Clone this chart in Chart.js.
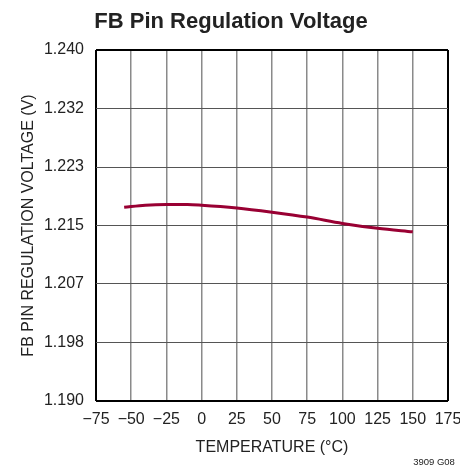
<!DOCTYPE html>
<html>
<head>
<meta charset="utf-8">
<script src="https://cdn.jsdelivr.net/npm/chart.js@4.4.1/dist/chart.umd.min.js"></script>
<style>
  html, body { margin: 0; padding: 0; background: #fff; }
  #wrap { width: 460px; height: 469px; position: relative; }
</style>
</head>
<body>
<div id="wrap"><canvas id="fbChart" width="460" height="469"></canvas></div>
<script>
// FB pin regulation voltage vs temperature
const temps = [-55, -40, -25, -10, 0, 25, 50, 75, 100, 125, 150];
const vfb = [1.2176, 1.2179, 1.2180, 1.2180, 1.2179, 1.2175, 1.2169, 1.2162, 1.2153, 1.2146, 1.2141];

const xTickValues = [-75, -50, -25, 0, 25, 50, 75, 100, 125, 150, 175];
const xTickLabels = ['\u221275', '\u221250', '\u221225', '0', '25', '50', '75', '100', '125', '150', '175'];
const yTickValues = [1.19, 1.198333, 1.206667, 1.215, 1.223333, 1.231667, 1.24];
const yTickLabels = ['1.190', '1.198', '1.207', '1.215', '1.223', '1.232', '1.240'];

const FONT = '"Liberation Sans Narrow", "Arial Narrow", "Liberation Sans", Arial, sans-serif';

// title + part number drawn straight on the canvas
const textPlugin = {
    id: 'textPlugin',
    afterDraw(chart) {
        const c = chart.ctx;
        c.save();
        c.fillStyle = '#222';
        c.textAlign = 'center';
        c.textBaseline = 'alphabetic';
        c.font = 'bold 22px ' + FONT;
        c.fillText('FB Pin Regulation Voltage', 231, 28);
        c.font = '9.5px ' + FONT;
        c.fillText('3909 G08', 434, 465);
        c.restore();
    }
};

const edge = (ctx, n, inner, outer) => (ctx.index === 0 || ctx.index === n - 1) ? outer : inner;

new Chart(document.getElementById('fbChart'), {
    type: 'line',
    data: {
        datasets: [{
            data: temps.map((t, i) => ({ x: t, y: vfb[i] })),
            borderColor: '#990033',
            borderWidth: 3,
            pointRadius: 0,
            fill: false,
            cubicInterpolationMode: 'monotone'
        }]
    },
    options: {
        responsive: false,
        animation: false,
        layout: { padding: { top: 50, left: 0, right: 12, bottom: 0 } },
        plugins: { legend: { display: false }, tooltip: { enabled: false } },
        scales: {
            x: {
                type: 'linear',
                min: -75,
                max: 175,
                afterBuildTicks: s => { s.ticks = xTickValues.map(v => ({ value: v })); },
                afterFit: s => { s.height = 68; s.paddingLeft = 0; s.paddingRight = 0; },
                ticks: {
                    callback: (v, i) => xTickLabels[i],
                    color: '#222',
                    font: { family: FONT, size: 16 },
                    padding: 9,
                    maxRotation: 0,
                    autoSkip: false
                },
                grid: {
                    drawTicks: false,
                    color: ctx => edge(ctx, xTickValues.length, '#8a8a8a', '#000'),
                    lineWidth: ctx => edge(ctx, xTickValues.length, 1.5, 2)
                },
                border: { display: false },
                title: {
                    display: true,
                    text: 'TEMPERATURE (\u00B0C)',
                    color: '#222',
                    font: { family: FONT, size: 16 },
                    padding: { top: 0, bottom: 12 }
                }
            },
            y: {
                min: 1.19,
                max: 1.24,
                afterBuildTicks: s => { s.ticks = yTickValues.map(v => ({ value: v })); },
                afterFit: s => { s.width = 96; s.paddingTop = 0; s.paddingBottom = 0; },
                ticks: {
                    callback: (v, i) => yTickLabels[i],
                    color: '#222',
                    font: { family: FONT, size: 16 },
                    padding: 12
                },
                grid: {
                    drawTicks: false,
                    color: ctx => edge(ctx, yTickValues.length, '#555', '#000'),
                    lineWidth: ctx => edge(ctx, yTickValues.length, 1, 2)
                },
                border: { display: false },
                title: {
                    display: true,
                    text: 'FB PIN REGULATION VOLTAGE (V)',
                    color: '#222',
                    font: { family: FONT, size: 16 },
                    padding: { top: 19, bottom: 0 }
                }
            }
        }
    },
    plugins: [textPlugin]
});
</script>
</body>
</html>
